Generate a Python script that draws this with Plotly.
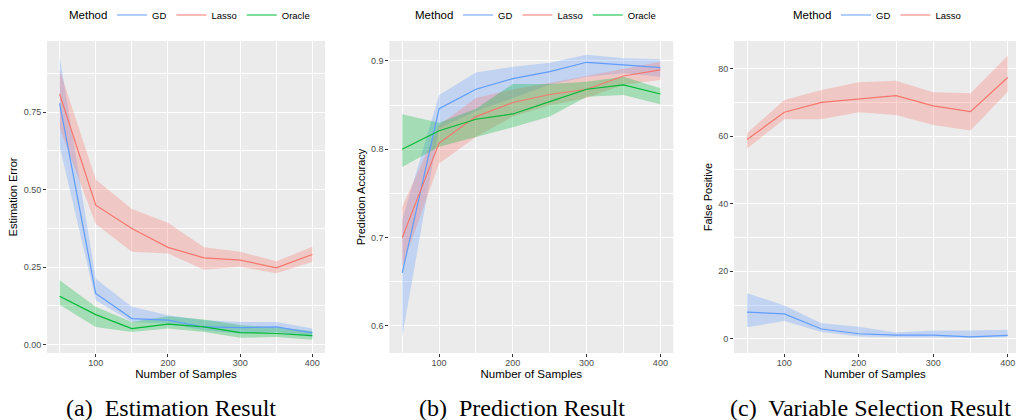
import plotly.graph_objects as go

W, H = 1016, 420

samples = [50, 100, 150, 200, 250, 300, 350, 400]

# (a) Estimation error
est_gd = [0.779, 0.165, 0.084, 0.079, 0.057, 0.055, 0.057, 0.038]
est_gd_lo = [0.640, 0.143, 0.073, 0.068, 0.046, 0.036, 0.041, 0.025]
est_gd_hi = [0.930, 0.213, 0.122, 0.095, 0.079, 0.073, 0.073, 0.052]
est_lasso = [0.809, 0.450, 0.375, 0.314, 0.280, 0.273, 0.248, 0.291]
est_lasso_lo = [0.700, 0.389, 0.300, 0.294, 0.242, 0.251, 0.230, 0.267]
est_lasso_hi = [0.887, 0.533, 0.438, 0.393, 0.314, 0.300, 0.269, 0.316]
est_or = [0.156, 0.097, 0.052, 0.066, 0.057, 0.039, 0.036, 0.029]
est_or_lo = [0.129, 0.057, 0.041, 0.052, 0.041, 0.022, 0.025, 0.016]
est_or_hi = [0.208, 0.122, 0.073, 0.092, 0.081, 0.063, 0.055, 0.044]

# (b) Prediction accuracy
pred_gd = [0.660, 0.846, 0.868, 0.880, 0.888, 0.8985, 0.8955, 0.8925]
pred_gd_lo = [0.588, 0.824, 0.843, 0.858, 0.873, 0.882, 0.886, 0.882]
pred_gd_hi = [0.720, 0.8615, 0.887, 0.8935, 0.898, 0.907, 0.903, 0.902]
pred_lasso = [0.700, 0.807, 0.837, 0.853, 0.862, 0.868, 0.883, 0.890]
pred_lasso_lo = [0.667, 0.784, 0.814, 0.837, 0.850, 0.858, 0.873, 0.8785]
pred_lasso_hi = [0.735, 0.8275, 0.858, 0.868, 0.875, 0.883, 0.8917, 0.899]
pred_or = [0.800, 0.821, 0.834, 0.840, 0.854, 0.868, 0.873, 0.8626]
pred_or_lo = [0.780, 0.803, 0.814, 0.825, 0.837, 0.8596, 0.8615, 0.851]
pred_or_hi = [0.8396, 0.830, 0.846, 0.874, 0.874, 0.8766, 0.882, 0.869]

# (c) Variable selection: false positives
fp_gd = [7.9, 7.4, 2.9, 1.5, 1.1, 1.1, 0.6, 1.0]
fp_gd_lo = [3.4, 5.3, 2.0, 0.7, 0.5, 0.4, 0.3, 0.5]
fp_gd_hi = [13.5, 9.9, 4.6, 3.6, 1.9, 2.5, 2.5, 2.7]
fp_lasso = [59.0, 67.1, 70.0, 71.0, 72.0, 69.0, 67.3, 77.4]
fp_lasso_lo = [56.4, 65.0, 65.0, 67.1, 66.3, 63.3, 61.7, 73.2]
fp_lasso_hi = [60.9, 70.7, 73.7, 76.0, 76.4, 73.0, 72.7, 83.8]

x_ticks = [100, 200, 300, 400]
y_ticks_a = [0.00, 0.25, 0.50, 0.75]
y_ticks_b = [0.6, 0.7, 0.8, 0.9]
y_ticks_c = [0, 20, 40, 60, 80]

captions = ["(a)  Estimation Result", "(b)  Prediction Result", "(c)  Variable Selection Result"]
y_titles = ["Estimation Error", "Prediction Accuracy", "False Positive"]
legend_title = "Method"

COL = {"GD": "#619CFF", "Lasso": "#F8766D", "Oracle": "#00BA38"}
FILL = {"GD": "rgba(97,156,255,0.3)", "Lasso": "rgba(248,118,109,0.3)", "Oracle": "rgba(0,186,56,0.3)"}

panels = [
    dict(series=[("GD", est_gd, est_gd_lo, est_gd_hi), ("Lasso", est_lasso, est_lasso_lo, est_lasso_hi),
                 ("Oracle", est_or, est_or_lo, est_or_hi)],
         xdom=(47, 325), xr=(32.5, 417.5), yr=(-0.027, 0.98), yt=y_ticks_a, ytext=["0.00", "0.25", "0.50", "0.75"],
         ymdt=0.125, ymt0=0.125, legx=112),
    dict(series=[("GD", pred_gd, pred_gd_lo, pred_gd_hi), ("Lasso", pred_lasso, pred_lasso_lo, pred_lasso_hi),
                 ("Oracle", pred_or, pred_or_lo, pred_or_hi)],
         xdom=(389.3, 673.3), xr=(32.5, 417.5), yr=(0.5694, 0.9226), yt=y_ticks_b, ytext=["0.6", "0.7", "0.8", "0.9"],
         ymdt=0.05, ymt0=0.55, legx=458),
    dict(series=[("GD", fp_gd, fp_gd_lo, fp_gd_hi), ("Lasso", fp_lasso, fp_lasso_lo, fp_lasso_hi)],
         xdom=(734, 1016), xr=(32.5, 411.1), yr=(-4.2, 88.2), yt=y_ticks_c, ytext=[str(v) for v in y_ticks_c],
         ymdt=10, ymt0=10, legx=836),
]
cap_x = [171, 522, 870]

FONT = "Liberation Sans, Arial, sans-serif"
fig = go.Figure()
layout = dict(width=W, height=H, margin=dict(l=0, r=0, t=0, b=0),
              paper_bgcolor="white", plot_bgcolor="#EBEBEB", showlegend=True,
              font=dict(family=FONT, color="black"))
annotations = []

y_top, y_bot = 41, 353
for i, p in enumerate(panels):
    k = "" if i == 0 else str(i + 1)
    xa, ya = "x" + k, "y" + k
    leg = "legend" + k
    # ribbons
    for name, mid, lo, hi in p["series"]:
        fig.add_trace(go.Scatter(x=samples, y=lo, mode="lines", line=dict(width=0), xaxis=xa, yaxis=ya,
                                 showlegend=False, hoverinfo="skip", legend=leg))
        fig.add_trace(go.Scatter(x=samples, y=hi, mode="lines", line=dict(width=0), fill="tonexty",
                                 fillcolor=FILL[name], xaxis=xa, yaxis=ya, showlegend=False, hoverinfo="skip",
                                 legend=leg))
    for name, mid, lo, hi in p["series"]:
        fig.add_trace(go.Scatter(x=samples, y=mid, mode="lines", name=name, line=dict(color=COL[name], width=1.2),
                                 xaxis=xa, yaxis=ya, legend=leg))
    common = dict(showgrid=True, gridcolor="white", gridwidth=1.1, zeroline=False, showline=False,
                  ticks="outside", ticklen=3, tickcolor="#333333", tickwidth=1,
                  tickfont=dict(size=9, color="#4D4D4D", family=FONT))
    layout["xaxis" + k] = dict(common, domain=[p["xdom"][0] / W, p["xdom"][1] / W], range=list(p["xr"]),
                               anchor=ya, tickvals=x_ticks, ticktext=[str(v) for v in x_ticks],
                               ticklabelstandoff=-2,
                               minor=dict(tickvals=[50, 150, 250, 350], showgrid=True, gridcolor="white",
                                          gridwidth=0.6, ticks=""),
                               title=dict(text="Number of Samples", font=dict(size=11.5, color="black"),
                                          standoff=0))
    layout["yaxis" + k] = dict(common, domain=[1 - y_bot / H, 1 - y_top / H], range=list(p["yr"]),
                               anchor=xa, tickvals=p["yt"], ticktext=p["ytext"],
                               minor=dict(dtick=p["ymdt"], tick0=p["ymt0"], showgrid=True, gridcolor="white",
                                          gridwidth=0.6, ticks=""),
                               title=dict(text=y_titles[i], font=dict(size=11, color="black"), standoff=3))
    layout[leg] = dict(orientation="h", x=p["legx"] / W, xanchor="left", y=1 - 15 / H, yanchor="middle",
                       font=dict(size=9.5, color="black"), bgcolor="rgba(0,0,0,0)", itemwidth=30,
                       traceorder="normal", tracegroupgap=0, itemclick=False)
    annotations.append(dict(text=legend_title, x=(p["legx"] - 3) / W, y=1 - 15 / H, xref="paper", yref="paper",
                            xanchor="right", yanchor="middle", showarrow=False,
                            font=dict(family=FONT, size=11.5, color="black")))
    annotations.append(dict(text=captions[i], x=cap_x[i] / W, y=1 - 408 / H, xref="paper", yref="paper",
                            xanchor="center", yanchor="middle", showarrow=False,
                            font=dict(family="Liberation Serif, Times New Roman, serif", size=24, color="black")))

layout["annotations"] = annotations
fig.update_layout(**layout)
fig.write_html("out.html")
